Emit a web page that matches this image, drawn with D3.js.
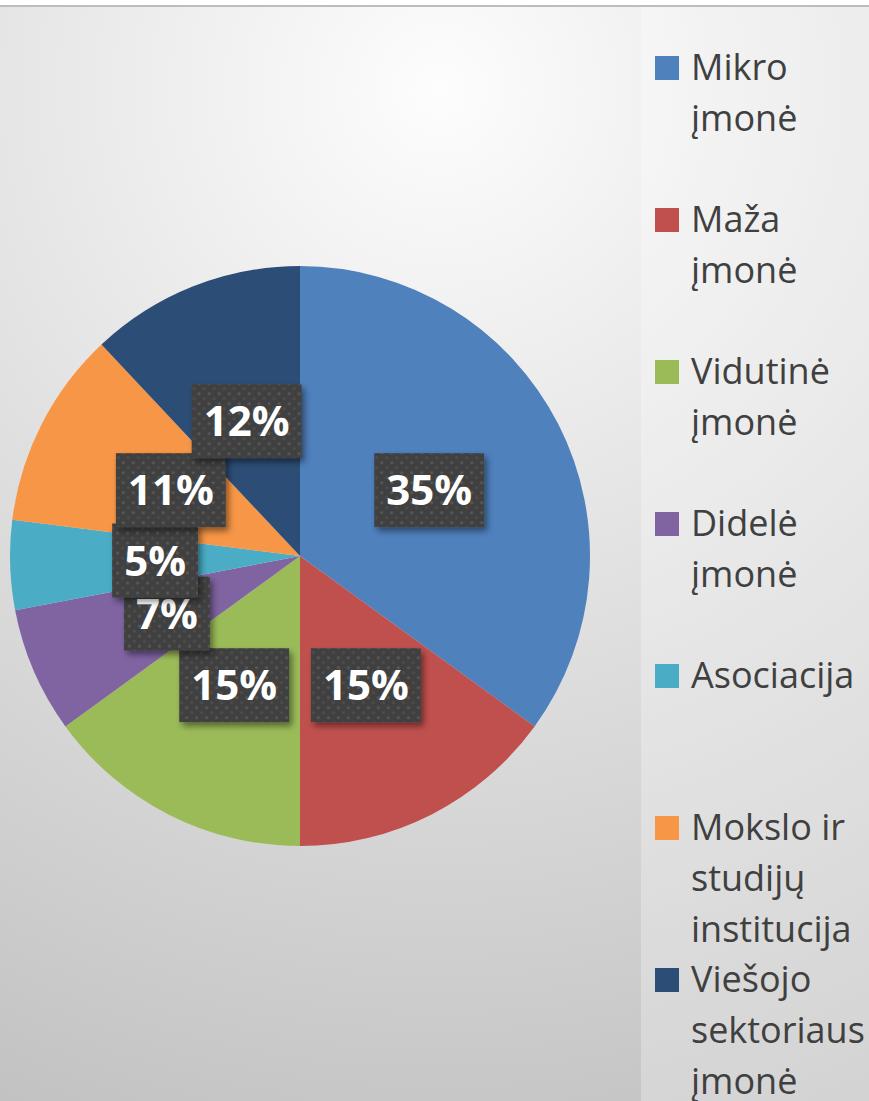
<!DOCTYPE html>
<html lang="lt">
<head>
<meta charset="UTF-8">
<title>Pie</title>
<script src="https://cdn.jsdelivr.net/npm/d3@7/dist/d3.min.js"></script>
<style>
  html, body { margin: 0; padding: 0; background: #fff; }
  svg { display: block; }
</style>
</head>
<body>
<script>
// duomenys
const categories = ['Mikro įmonė', 'Maža įmonė', 'Vidutinė įmonė', 'Didelė įmonė',
                    'Asociacija', 'Mokslo ir studijų institucija', 'Viešojo sektoriaus įmonė'];
const values = [35, 15, 15, 7, 5, 11, 12];
const colors = ['#4F81BD', '#C0504D', '#9BBB59', '#8064A2', '#4BACC6', '#F79646', '#2C4D75'];

const W = 869, H = 1101;
const cx = 300, cy = 556, R = 290;

const svg = d3.select('body').append('svg')
    .attr('width', W)
    .attr('height', H);

const defs = svg.append('defs');

// fono gradientas
const bg = defs.append('radialGradient')
    .attr('id', 'bg')
    .attr('gradientUnits', 'userSpaceOnUse')
    .attr('cx', 440).attr('cy', 90).attr('r', 1100);
bg.append('stop').attr('offset', '0%').attr('stop-color', '#fdfdfd');
bg.append('stop').attr('offset', '100%').attr('stop-color', '#c2c2c2');

// taškuotas etikečių fonas
const pat = defs.append('pattern')
    .attr('id', 'dots')
    .attr('patternUnits', 'userSpaceOnUse')
    .attr('width', 10).attr('height', 10);
pat.append('rect').attr('width', 10).attr('height', 10).attr('fill', '#404040');
pat.append('circle').attr('cx', 2.5).attr('cy', 2.5).attr('r', 1.6).attr('fill', '#575757');
pat.append('circle').attr('cx', 7.5).attr('cy', 7.5).attr('r', 1.6).attr('fill', '#4d4d4d');

const shadow = defs.append('filter')
    .attr('id', 'shadow')
    .attr('x', '-20%').attr('y', '-20%')
    .attr('width', '150%').attr('height', '150%');
shadow.append('feDropShadow')
    .attr('dx', 3).attr('dy', 4)
    .attr('stdDeviation', 3)
    .attr('flood-color', '#000')
    .attr('flood-opacity', 0.45);

svg.append('rect')
    .attr('x', 0).attr('y', 6)
    .attr('width', W).attr('height', H - 6)
    .attr('fill', 'url(#bg)');

// viršutinė linija
svg.append('line')
    .attr('x1', 0).attr('x2', W)
    .attr('y1', 6).attr('y2', 6)
    .attr('stroke', '#bdbdbd')
    .attr('stroke-width', 2);

// legendos sritis
svg.append('rect')
    .attr('x', 641).attr('y', 7)
    .attr('width', W - 641).attr('height', H - 7)
    .attr('fill', '#fff')
    .attr('fill-opacity', 0.28);

// skritulinė diagrama
const pie = d3.pie().sort(null).value(d => d);
const arcs = pie(values);
const arc = d3.arc().innerRadius(0).outerRadius(R);

const g = svg.append('g').attr('transform', `translate(${cx},${cy})`);

g.selectAll('path.slice')
    .data(arcs)
    .enter()
    .append('path')
    .attr('class', 'slice')
    .attr('d', arc)
    .attr('fill', (d, i) => colors[i]);

// etiketės
const labels = g.selectAll('g.lbl')
    .data(arcs)
    .enter()
    .append('g')
    .attr('class', 'lbl')
    .attr('transform', d => `translate(${arc.centroid(d)})`);

labels.each(function (d) {
    const el = d3.select(this);
    const box = el.append('rect').attr('fill', 'url(#dots)').attr('filter', 'url(#shadow)');
    const t = el.append('text')
        .attr('text-anchor', 'middle')
        .attr('y', 15)
        .attr('fill', '#fff')
        .attr('font-family', '"Open Sans", sans-serif')
        .attr('font-weight', 700)
        .attr('font-size', 42)
        .text(d.data + '%');
    const w = t.node().getComputedTextLength() + 24;
    box.attr('x', -w / 2).attr('y', -37)
        .attr('width', w).attr('height', 74);
});

// legenda
const legend = svg.append('g').attr('class', 'legend');
const lineH = 51, step = 152, maxW = 182;

categories.forEach((name, i) => {
    const y0 = 68 + i * step;
    const item = legend.append('g');
    item.append('rect')
        .attr('x', 655).attr('y', y0 - 12)
        .attr('width', 24).attr('height', 24)
        .attr('fill', colors[i]);
    const txt = item.append('text')
        .attr('x', 691)
        .attr('fill', '#404040')
        .attr('font-family', '"Open Sans", sans-serif')
        .attr('font-size', 36);
    // žodžių laužymas
    const words = name.split(' ');
    let line = [], n = 0;
    let ts = txt.append('tspan').attr('x', 691).attr('y', y0 + 12);
    words.forEach(w => {
        line.push(w);
        ts.text(line.join(' '));
        if (ts.node().getComputedTextLength() > maxW && line.length > 1) {
            line.pop();
            ts.text(line.join(' '));
            line = [w];
            n++;
            ts = txt.append('tspan').attr('x', 691).attr('y', y0 + 12 + n * lineH).text(w);
        }
    });
});
</script>
</body>
</html>
